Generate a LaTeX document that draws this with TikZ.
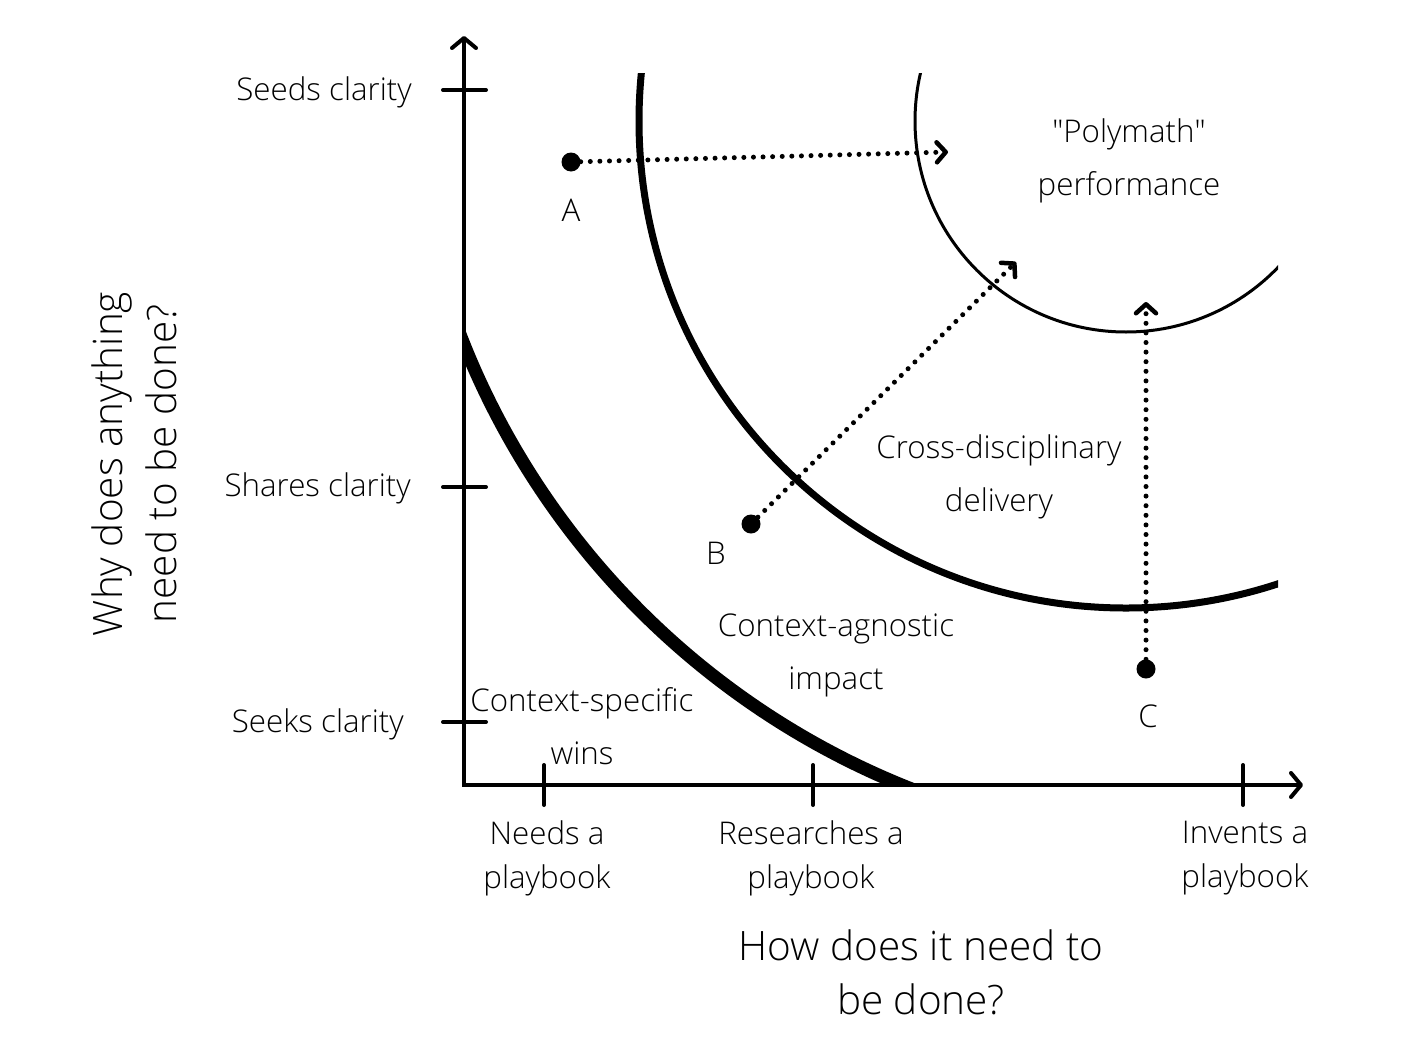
\documentclass[tikz,border=0pt]{standalone}
\usepackage{fontspec}
\setmainfont{Open Sans Light}
\usetikzlibrary{arrows.meta}
\newcommand\straightquote{{\XeTeXglyph\XeTeXcharglyph"22\relax}}
\begin{document}
\begin{tikzpicture}[x=1pt,y=-1pt,
  axisline/.style={line width=4pt, line join=miter,
    {Straight Barb[length=10pt,width=24pt,line width=4pt,round]}-{Straight Barb[length=10pt,width=24pt,line width=4pt,round]}},
  tickmark/.style={line width=4pt, line cap=round},
  dotline/.style={line width=5pt, line cap=round, dash pattern=on 0pt off 9.6pt,
    -{Straight Barb[length=9pt,width=20pt,line width=4.5pt,round]}},
  dotnode/.style={circle, fill=black, inner sep=0pt, minimum size=19pt},
  ticklbl/.style={font=\fontsize{31.3}{44}\selectfont, inner sep=0pt},
  xlbl/.style={font=\fontsize{31.3}{44}\selectfont, align=center, inner sep=0pt},
  regionlbl/.style={font=\fontsize{31.3}{53}\selectfont, align=center, inner sep=0pt},
  titlelbl/.style={font=\fontsize{40.5}{54}\selectfont, align=center, inner sep=0pt},
  ptlbl/.style={font=\fontsize{31.3}{35}\selectfont, inner sep=0pt},
]
\useasboundingbox (0,0) rectangle (1412,1036);
\fill[white] (0,0) rectangle (1412,1036);

\coordinate (C0) at (1126,121);
\coordinate (C1) at (1203,48);
\coordinate (O) at (464,785);
\coordinate (ytop) at (464,36);
\coordinate (xend) at (1303,785);

% curves
\begin{scope}
  \clip (464,48) rectangle (1203,785);
  \draw[line width=13pt] (C1) circle[radius=796];
\end{scope}
\begin{scope}
  \clip (0,73) rectangle (1278,1036);
  \draw[line width=7pt] (C0) circle[radius=487];
  \draw[line width=3pt] (C0) circle[radius=211];
\end{scope}

% axes
\draw[axisline] (ytop) -- (O) -- (xend);

% ticks
\coordinate (ty1a) at (443,90);  \coordinate (ty1b) at (486,90);
\coordinate (ty2a) at (443,487); \coordinate (ty2b) at (486,487);
\coordinate (ty3a) at (443,722); \coordinate (ty3b) at (486,722);
\coordinate (tx1a) at (544,765); \coordinate (tx1b) at (544,805);
\coordinate (tx2a) at (813,765); \coordinate (tx2b) at (813,805);
\coordinate (tx3a) at (1243,765); \coordinate (tx3b) at (1243,805);
\draw[tickmark] (ty1a) -- (ty1b);
\draw[tickmark] (ty2a) -- (ty2b);
\draw[tickmark] (ty3a) -- (ty3b);
\draw[tickmark] (tx1a) -- (tx1b);
\draw[tickmark] (tx2a) -- (tx2b);
\draw[tickmark] (tx3a) -- (tx3b);

% tick labels
\node[ticklbl, anchor=base east] (seeds) at (412,100) {Seeds clarity};
\node[ticklbl, anchor=base east] (shares) at (411,496) {Shares clarity};
\node[ticklbl, anchor=base east] (seeks) at (404,732) {Seeks clarity};
\node[xlbl] (needs) at (547,858) {Needs a\\playbook};
\node[xlbl] (researches) at (811,858) {Researches a\\playbook};
\node[xlbl] (invents) at (1245,858) {Invents a\\playbook};

% axis titles
\node[titlelbl] (xtitle) at (921,972) {How does it need to\\be done?};
\node[titlelbl, rotate=90] (ytitle) at (134,464) {Why does anything\\need to be done?};

% region labels
\node[regionlbl] (poly) at (1129,161) {\straightquote Polymath\straightquote\\performance};
\node[regionlbl] (cross) at (999,477) {Cross-disciplinary\\delivery};
\node[regionlbl] (agnostic) at (836,655) {Context-agnostic\\impact};
\node[regionlbl] (specific) at (582,726) {Context-specific\\wins};

% points
\node[dotnode] (A) at (571,162) {};
\node[dotnode] (B) at (751,524) {};
\node[dotnode] (C) at (1146,669) {};
\node[ptlbl, anchor=base] (Alb) at (571,221) {A};
\node[ptlbl, anchor=base] (Blb) at (716,564) {B};
\node[ptlbl, anchor=base] (Clb) at (1148,727) {C};

\coordinate (tA) at (948,152);
\coordinate (tB) at (1016,262);
\coordinate (tC) at (1146,302);
\draw[dotline] (A) -- (tA);
\draw[dotline] (B) -- (tB);
\draw[dotline] (C) -- (tC);
\end{tikzpicture}
\end{document}
